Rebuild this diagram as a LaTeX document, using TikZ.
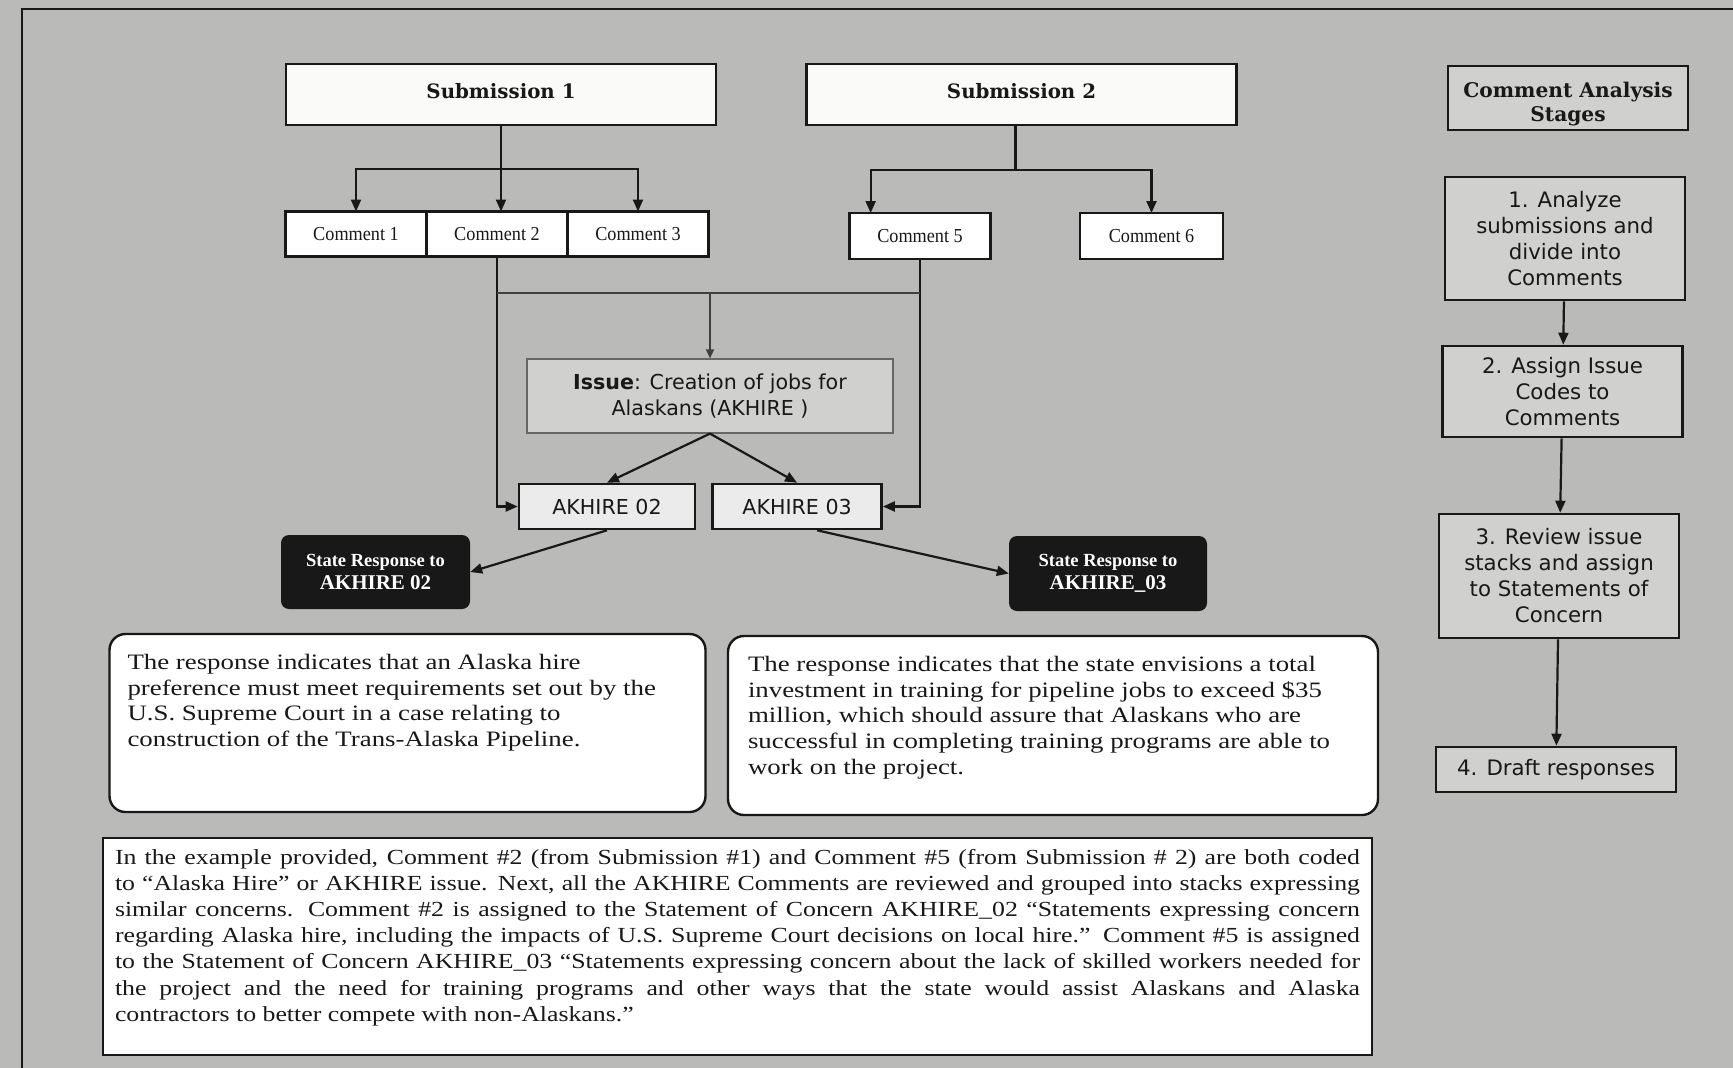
\documentclass[tikz,border=0pt]{standalone}
\usepackage{fontspec}
\setmainfont{Liberation Serif}
\newfontfamily\headfont{DejaVu Serif}
\newfontfamily\stagefont{DejaVu Sans}
\newfontfamily\commentfont[FakeStretch=0.92]{Liberation Serif}
\newfontfamily\respfont[FakeStretch=1.22]{Liberation Serif}
\newfontfamily\notefont[FakeStretch=1.2]{Liberation Serif}
\usetikzlibrary{arrows.meta}
\usetikzlibrary{calc}
\usetikzlibrary{positioning}

\definecolor{scanGray}{RGB}{186,186,184}
\definecolor{paleGray}{RGB}{208,208,206}
\definecolor{boxWhite}{RGB}{250,250,248}
\definecolor{inkBlack}{RGB}{24,24,24}

\newcommand{\fullline}[1]{\makebox[\linewidth][s]{#1}\\}

\begin{document}
\begin{tikzpicture} [
        x = 1pt, y = -1pt,
        every node/.style = {
          align = center,
          inner sep = 0pt,
          text = inkBlack,
        },
        subbox/.style = {
          draw = inkBlack,
          fill = boxWhite,
          line width = 2.8pt,
          minimum width = 430pt,
          minimum height = 61pt,
          font = \headfont\bfseries\fontsize{19.8}{22}\selectfont,
        },
        combox/.style = {
          draw = inkBlack,
          fill = white,
          line width = 2.6pt,
          outer sep = 0pt,
          minimum width = 141pt,
          minimum height = 45pt,
          font = \commentfont\fontsize{19.8}{22}\selectfont,
        },
        issuebox/.style = {
          draw = black!60,
          fill = paleGray,
          line width = 1.2pt,
          minimum width = 366pt,
          minimum height = 74pt,
          font = \stagefont\fontsize{20.6}{25.5}\selectfont,
        },
        codebox/.style = {
          draw = inkBlack,
          fill = white!92!black,
          line width = 2.6pt,
          minimum width = 176pt,
          minimum height = 45pt,
          font = \stagefont\fontsize{20.6}{24}\selectfont,
        },
        darkbox/.style = {
          fill = inkBlack,
          rounded corners = 8pt,
          minimum height = 74pt,
          text = white,
          font = \bfseries\fontsize{21}{23}\selectfont,
        },
        notebox/.style = {
          draw = inkBlack,
          fill = white,
          line width = 2.4pt,
          rounded corners = 16pt,
          inner xsep = 18pt,
          inner ysep = 20pt,
        },
        stagehead/.style = {
          draw = inkBlack,
          fill = paleGray,
          line width = 2.8pt,
          minimum width = 240pt,
          minimum height = 64pt,
          font = \headfont\bfseries\fontsize{20.2}{24.5}\selectfont,
        },
        stagebox/.style = {
          draw = inkBlack,
          fill = paleGray,
          line width = 2.6pt,
          minimum width = 240pt,
          font = \stagefont\fontsize{21.3}{26}\selectfont,
        },
        flow/.style = {
          draw = inkBlack,
          line width = 2.2pt,
          -{Triangle[length = 12pt, width = 10pt]},
        },
        thinflow/.style = {
          draw = black!75,
          line width = 1.5pt,
          -{Triangle[length = 9pt, width = 8pt]},
        },
        link/.style = {
          draw = black!75,
          line width = 1.5pt,
        },
      ]

    % scanned page and its frame
    \fill[scanGray] (0,0) rectangle (1733,1068);
    \useasboundingbox (0,0) rectangle (1733,1068);
    \draw[line width = 2.5pt, inkBlack] (22,1068) -- (22,9) -- (1733,9);

    % submissions
    \node [subbox] (sub1) at (501,94.5) {\raisebox{3pt}[\height][\depth]{Submission 1}};
    \node [subbox] (sub2) at (1021.5,94.5) {\raisebox{3pt}[\height][\depth]{Submission 2}};

    % comments
    \node [combox] (com1) at (356,234) {Comment 1};
    \node [combox, right = 0pt of com1] (com2) {Comment 2};
    \node [combox, right = 0pt of com2] (com3) {Comment 3};
    \node [combox, minimum height = 46pt] (com5) at (920,236) {Comment 5};
    \node [combox, minimum height = 46pt, minimum width = 143pt] (com6) at (1151.5,236) {Comment 6};

    % issue and statements of concern
    \node [issuebox] (issue) at (710,396) {\textbf{Issue}: Creation of jobs for\\Alaskans (AKHIRE )};
    \node [codebox] (akh2) at (607,506.5) {AKHIRE 02};
    \node [codebox, minimum width = 169pt, right = 15pt of akh2] (akh3) {AKHIRE 03};

    \node [darkbox, minimum width = 189pt] (state2) at (375.5,572) {{\fontsize{18.5}{21}\selectfont State Response to}\\AKHIRE 02};
    \node [darkbox, minimum width = 198pt, minimum height = 75pt] (state3) at (1108,573.5) {{\fontsize{18.5}{21}\selectfont State Response to}\\AKHIRE\_03};

    % responses
    \node [notebox] (resp2) at (407.5,723) {\parbox[c][138pt][t]{560pt}{\raggedright\respfont\fontsize{22}{25.8}\selectfont
      The response indicates that an Alaska hire\\
      preference must meet requirements set out by the\\
      U.S. Supreme Court in a case relating to\\
      construction of the Trans-Alaska Pipeline.}};
    \node [notebox, inner xsep = 20pt] (resp3) at (1053,725.5) {\parbox[c][139pt][t]{610pt}{\raggedright\respfont\fontsize{22}{25.8}\selectfont
      The response indicates that the state envisions a total\\
      investment in training for pipeline jobs to exceed \$35\\
      million, which should assure that Alaskans who are\\
      successful in completing training programs are able to\\
      work on the project.}};

    \node [notebox, rounded corners = 0pt, line width = 2pt, inner xsep = 12pt, inner ysep = 11pt] (summary) at (737.5,946.5) {\parbox[c][195pt][t]{1245pt}{\notefont\fontsize{21.5}{26.2}\selectfont
      \fullline{In the example provided, Comment \#2 (from Submission \#1) and Comment \#5 (from Submission \# 2) are both coded}
      \fullline{to “Alaska Hire” or AKHIRE issue. Next, all the AKHIRE Comments are reviewed and grouped into stacks expressing}
      \fullline{similar concerns. Comment \#2 is assigned to the Statement of Concern AKHIRE\_02 “Statements expressing concern}
      \fullline{regarding Alaska hire, including the impacts of U.S. Supreme Court decisions on local hire.” Comment \#5 is assigned}
      \fullline{to the Statement of Concern AKHIRE\_03 “Statements expressing concern about the lack of skilled workers needed for}
      \fullline{the project and the need for training programs and other ways that the state would assist Alaskans and Alaska}
      contractors to better compete with non-Alaskans.”}};

    % analysis stages
    \node [stagehead] (stages) at (1568,98) {\raisebox{-6pt}[\height][\depth]{\parbox{230pt}{\centering Comment Analysis\\Stages}}};
    \node [stagebox, minimum height = 123pt] (step1) at (1565,238.5) {1. Analyze\\submissions and\\divide into\\Comments};
    \node [stagebox, minimum height = 91pt] (step2) at (1562.5,391.5) {2. Assign Issue\\Codes to\\Comments};
    \node [stagebox, minimum height = 124pt] (step3) at (1559,576) {3. Review issue\\stacks and assign\\to Statements of\\Concern};
    \node [stagebox, minimum height = 45pt] (step4) at (1556,769.5) {4. Draft responses};

    % submissions split into comments
    \coordinate (sub1Split) at ($(sub1.south)!.5!(sub1.south |- com2.north)$);
    \coordinate (sub2Out) at ([xshift = -6pt]sub2.south);
    \coordinate (sub2Split) at ($(sub2Out)!.5!(sub2Out |- com6.north)$);
    \coordinate (com5In) at ($(com5.north west)!.15!(com5.north east)$);
    \draw[flow] (sub1.south) -- (sub1.south |- com2.north);
    \draw[flow] (sub1.south) -- (sub1Split) -| (com1.north);
    \draw[flow] (sub1.south) -- (sub1Split) -| (com3.north);
    \draw[flow] (sub2Out) -- (sub2Split) -| (com5In);
    \draw[flow] (sub2Out) -- (sub2Split) -| (com6.north);

    % comments coded to the issue
    \coordinate (joinLine) at (0,293);
    \draw[flow] (com2.south) |- (akh2.west);
    \draw[flow] (com5.south) |- (akh3.east);
    \draw[link] (com2.south |- joinLine) -- (com5.south |- joinLine);
    \draw[thinflow] (issue.north |- joinLine) -- (issue.north);

    % issue to statements, statements to responses
    \draw[flow] (issue.south) -- (akh2.north);
    \draw[flow] (issue.south) -- (akh3.north);
    \draw[flow] (akh2.south) -- (state2.east);
    \draw[flow] ([xshift = 20pt]akh3.south) -- (state3.west);

    % stages
    \draw[flow] (step1) -- (step2);
    \draw[flow] (step2) -- (step3);
    \draw[flow] (step3) -- (step4);
  \end{tikzpicture}
\end{document}
